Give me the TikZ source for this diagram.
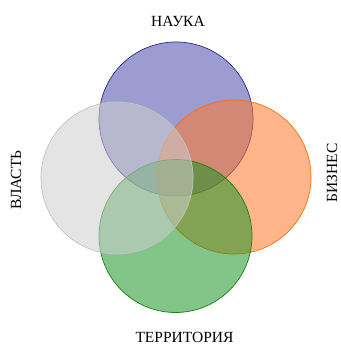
\documentclass[tikz,border=0pt]{standalone}
\usepackage{fontspec}
\setmainfont{Liberation Serif}
\usetikzlibrary{patterns}
\begin{document}
\begin{tikzpicture}[x=1pt,y=-1pt,
  circ/.style={line width=0.7pt, fill opacity=0.55},
  lbl/.style={font=\fontsize{15.5}{17}\selectfont, inner sep=0pt}]
\useasboundingbox (0,0) rectangle (340,344);
\definecolor{bfill}{RGB}{75,75,170}
\definecolor{bline}{RGB}{40,40,140}
\definecolor{ofill}{RGB}{255,120,40}
\definecolor{oline}{RGB}{255,110,10}
\definecolor{gfill}{RGB}{30,150,40}
\definecolor{gline}{RGB}{20,130,20}
\definecolor{afill}{RGB}{205,205,205}
\definecolor{aline}{RGB}{195,195,195}
\path[circ, draw=bline, fill=bfill] (176,119) circle[radius=77];
\path[circ, draw=oline, fill=ofill] (234,177) circle[radius=77];
\path[circ, draw=gline, fill=gfill] (175.5,236) circle[radius=76.5];
\path[circ, draw=aline, fill=afill] (117,178) circle[radius=76];
\node[lbl] (nauka) at (178,21) {НАУКА};
\node[lbl, rotate=90] (biz) at (332,173) {БИЗНЕС};
\node[lbl] (terr) at (184.5,337) {ТЕРРИТОРИЯ};
\node[lbl, rotate=90] (vlast) at (16,180) {ВЛАСТЬ};
\end{tikzpicture}
\end{document}
